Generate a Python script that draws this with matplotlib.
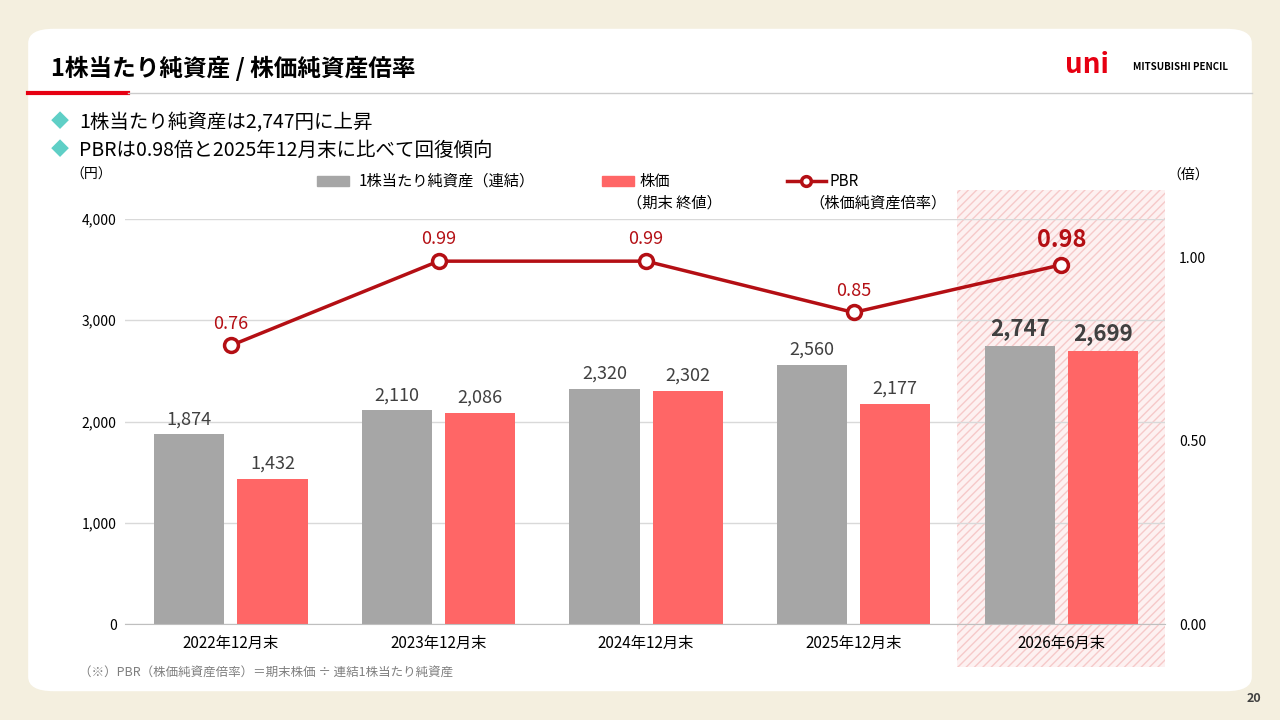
import matplotlib
matplotlib.use('Agg')
import matplotlib.pyplot as plt
from matplotlib.patches import FancyBboxPatch, Rectangle
from matplotlib.lines import Line2D

plt.rcParams['font.family'] = ['Noto Sans CJK JP', 'DejaVu Sans']

categories = ['2022年12月末', '2023年12月末', '2024年12月末', '2025年12月末', '2026年6月末']
bps = [1874, 2110, 2320, 2560, 2747]
price = [1432, 2086, 2302, 2177, 2699]
pbr = [0.76, 0.99, 0.99, 0.85, 0.98]

GREY = '#a6a6a6'
RED = '#ff6666'
DARK = '#b40f14'

fig = plt.figure(figsize=(12.8, 7.2), dpi=100)
fig.patch.set_facecolor('#f4efdf')

# white card
card = FancyBboxPatch((0.022, 0.04), 0.956, 0.92, boxstyle='round,pad=0,rounding_size=0.02',
                      transform=fig.transFigure, facecolor='white', edgecolor='none', zorder=-2)
fig.patches.append(card)

fig.text(0.04, 0.905, '1株当たり純資産 / 株価純資産倍率', fontsize=17, fontweight='bold', va='center')
fig.add_artist(Line2D([0.022, 0.10], [0.871, 0.871], color='#e60012', lw=3))
fig.add_artist(Line2D([0.10, 0.978], [0.871, 0.871], color='#cccccc', lw=1))
fig.text(0.832, 0.910, 'uni', fontsize=20, fontweight='bold', color='#e60012', va='center', style='italic')
fig.text(0.885, 0.907, 'MITSUBISHI PENCIL', fontsize=7, fontweight='bold', va='center')

fig.text(0.04, 0.830, '◆', color='#5fcfc6', fontsize=13, va='center')
fig.text(0.062, 0.830, '1株当たり純資産は2,747円に上昇', fontsize=14, va='center')
fig.text(0.04, 0.791, '◆', color='#5fcfc6', fontsize=13, va='center')
fig.text(0.062, 0.791, 'PBRは0.98倍と2025年12月末に比べて回復傾向', fontsize=14, va='center')

# highlight for latest period
hl = Rectangle((0.748, 0.073), 0.162, 0.663, transform=fig.transFigure,
               facecolor='#fdf1f1', edgecolor='#f6c9c9', hatch='////', lw=0, zorder=-1)
fig.patches.append(hl)

ax = fig.add_axes([0.0977, 0.1333, 0.8125, 0.5625])
ax.set_zorder(1)
ax.patch.set_alpha(0)
x = range(len(categories))
w = 0.338
ax.bar([i - 0.2 for i in x], bps, width=w, color=GREY, zorder=2)
ax.bar([i + 0.2 for i in x], price, width=w, color=RED, zorder=2)
for i in x:
    big = i == len(categories) - 1
    fs = 16 if big else 13
    fw = 'bold' if big else 'normal'
    ax.text(i - 0.2, bps[i] + 60, f'{bps[i]:,}', ha='center', va='bottom', fontsize=fs,
            fontweight=fw, color='#404040')
    ax.text(i + 0.2, price[i] + 60, f'{price[i]:,}', ha='center', va='bottom', fontsize=fs,
            fontweight=fw, color='#404040')
ax.set_ylim(0, 4000)
ax.set_xlim(-0.51, 4.5)
ax.set_yticks([0, 1000, 2000, 3000, 4000])
ax.set_yticklabels(['0', '1,000', '2,000', '3,000', '4,000'])
ax.yaxis.grid(True, color='#d9d9d9', lw=1)
ax.set_axisbelow(True)
ax.set_xticks(list(x))
ax.set_xticklabels(categories, fontsize=11)
for s in ['top', 'right', 'left']:
    ax.spines[s].set_visible(False)
ax.spines['bottom'].set_color('#bfbfbf')
ax.tick_params(length=0, labelsize=10, pad=6)
ax.tick_params(axis='x', pad=8, labelsize=11)

ax2 = ax.twinx()
ax2.set_ylim(0, 4000 / 3620 * 1.0)
ax2.plot(list(x), pbr, color=DARK, lw=2.5, marker='o', markersize=10,
         markerfacecolor='white', markeredgecolor=DARK, markeredgewidth=2.5, zorder=5)
for i in x:
    big = i == len(categories) - 1
    ax2.text(i, pbr[i] + 0.035, f'{pbr[i]:.2f}', ha='center', va='bottom', color=DARK,
             fontsize=17 if big else 13, fontweight='bold' if big else 'normal')
ax2.set_yticks([0, 0.5, 1.0])
ax2.set_yticklabels(['0.00', '0.50', '1.00'])
ax2.tick_params(length=0, labelsize=10, pad=10)
for s in ax2.spines.values():
    s.set_visible(False)

fig.text(0.055, 0.752, '（円）', fontsize=10)
fig.text(0.912, 0.752, '（倍）', fontsize=10)

# legend
fig.add_artist(Rectangle((0.248, 0.742), 0.025, 0.013, transform=fig.transFigure, color=GREY))
fig.text(0.28, 0.748, '1株当たり純資産（連結）', fontsize=11, va='center')
fig.add_artist(Rectangle((0.47, 0.742), 0.025, 0.013, transform=fig.transFigure, color=RED))
fig.text(0.50, 0.748, '株価', fontsize=11, va='center')
fig.text(0.490, 0.718, '（期末 終値）', fontsize=11, va='center')
fig.add_artist(Line2D([0.615, 0.645], [0.748, 0.748], color=DARK, lw=2.5))
fig.add_artist(Line2D([0.630], [0.748], color=DARK, marker='o', markersize=7,
                      markerfacecolor='white', markeredgewidth=2.5))
fig.text(0.648, 0.748, 'PBR', fontsize=11, va='center')
fig.text(0.632, 0.718, '（株価純資産倍率）', fontsize=11, va='center')

fig.text(0.062, 0.067, '（※）PBR（株価純資産倍率）＝期末株価 ÷ 連結1株当たり純資産', fontsize=9, color='#7f7f7f', va='center')
fig.text(0.985, 0.025, '20', fontsize=9, fontweight='bold', ha='right', color='#404040')

fig.savefig('out.png', dpi=100, facecolor=fig.get_facecolor())
